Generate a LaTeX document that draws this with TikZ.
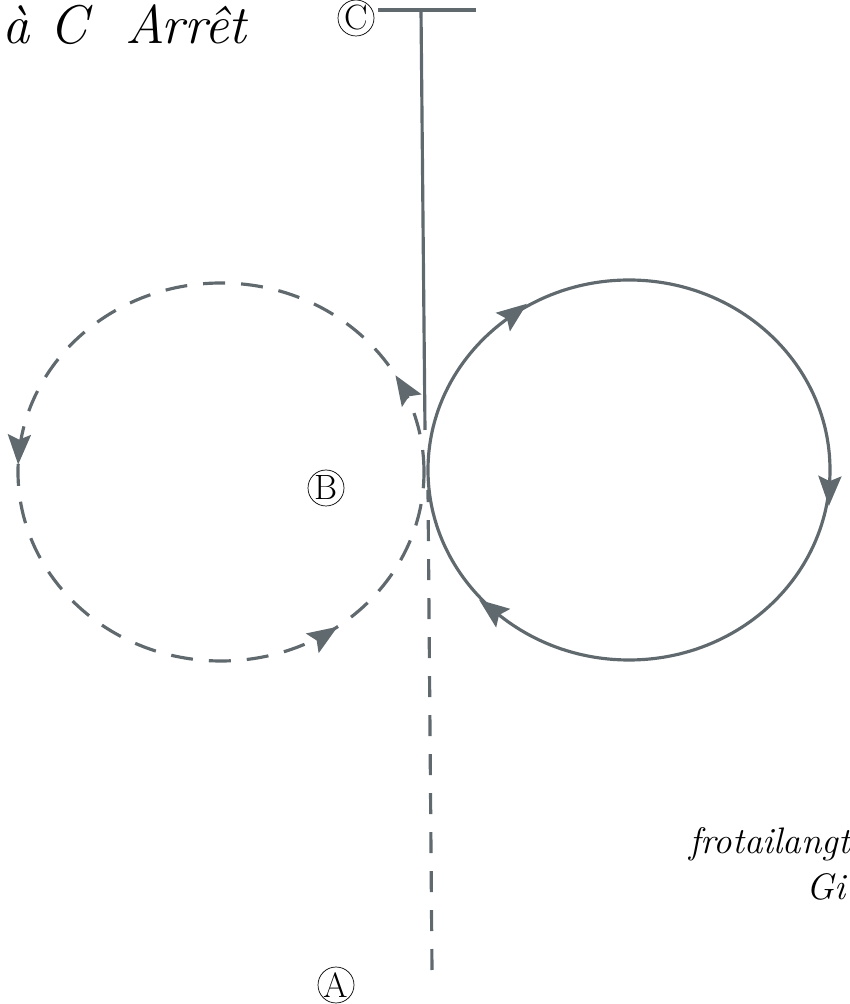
\documentclass[tikz,border=0pt]{standalone}
\usepackage{tikz}
\usetikzlibrary{arrows.meta,positioning,decorations.markings}
\definecolor{pen}{RGB}{95,105,110}
\newcommand{\tip}{Stealth[length=0.6cm,width=0.46cm,inset=0.1cm]}
\newcommand{\backtip}{Stealth[length=0.6cm,width=0.46cm,inset=0.1cm,reversed]}

\begin{document}
\begin{tikzpicture}[x=0.02cm,y=0.02cm,
  loop/.style={pen,line width=1.8pt},
  lbl/.style={draw,circle,thin,minimum size=0.72cm,inner sep=0pt,font=\fontsize{20}{20}\selectfont},
  hand/.style={font=\fontsize{31}{34}\selectfont\itshape,anchor=base west}]
  \useasboundingbox (0,0) rectangle (849,1004);
  % points of the track
  \coordinate (barL) at (378,994);
  \coordinate (barR) at (476,994);
  \coordinate (top) at (421,994);
  \coordinate (touch) at (425,574);
  \coordinate (kink) at (428,514);
  \coordinate (foot) at (432,34);
  % labels
  \node[lbl] (C) at (356,986) {C};
  \node[lbl] (B) at (326,516) {B};
  \node[lbl] (A) at (336,19) {A};
  \node[hand] (stop) at (-4,960) {à\hspace{0.4cm}C\hspace{0.75cm}Arrêt};
  \node[hand, font=\fontsize{21}{24}\selectfont\itshape] (note) at (683,150) {frotailangt};
  \node[hand, font=\fontsize{21}{24}\selectfont\itshape] (note2) at (800,104) {Gi};
  % stop bar and line down to the loops
  \draw[loop] (barL) -- (barR);
  \draw[loop] (top) -- (touch);
  \draw[loop, dash pattern=on 0.42cm off 0.36cm] (foot) -- (kink);
  % solid loop, turning clockwise
  \draw[loop, postaction={decorate}, decoration={markings,
      mark=at position 0.36 with {\arrow{\backtip}},
      mark=at position 0.64 with {\arrow{\backtip}},
      mark=at position 0.995 with {\arrow{\backtip}}}]
    (629,534) ellipse [x radius=201, y radius=190];
  % dashed loop, turning the other way
  \draw[loop, dash pattern=on 0.44cm off 0.32cm, postaction={decorate}, decoration={markings,
      mark=at position 0.083 with {\arrow{\tip}},
      mark=at position 0.494 with {\arrow{\tip}},
      mark=at position 0.85 with {\arrow{\tip}}}]
    (221,532) ellipse [x radius=203, y radius=189];
\end{tikzpicture}
\end{document}
